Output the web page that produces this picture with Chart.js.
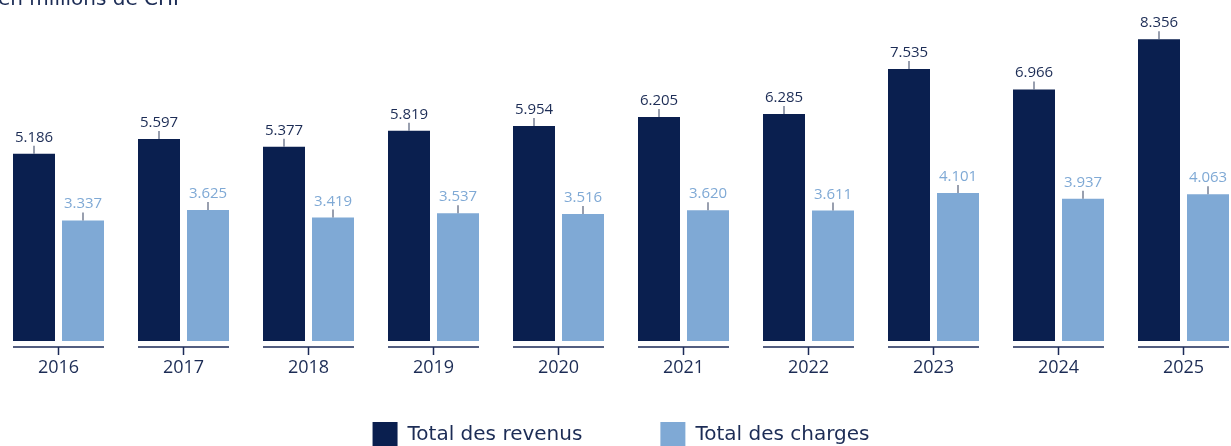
<!DOCTYPE html>
<html>
<head>
<meta charset="utf-8">
<script src="https://cdn.jsdelivr.net/npm/chart.js@4.4.1/dist/chart.umd.min.js"></script>
<style>
  html, body { margin: 0; padding: 0; background: #ffffff; overflow: hidden; width: 1231px; height: 446px; }
  #wrap { position: absolute; left: -4px; top: 0; width: 1250px; height: 457px; }
</style>
</head>
<body>
<div id="wrap"><canvas id="c"></canvas></div>
<script>
const years = ['2016','2017','2018','2019','2020','2021','2022','2023','2024','2025'];
const revenus = [5186, 5597, 5377, 5819, 5954, 6205, 6285, 7535, 6966, 8356];
const charges = [3337, 3625, 3419, 3537, 3516, 3620, 3611, 4101, 3937, 4063];
const seriesNames = ['Total des revenus', 'Total des charges'];
const unitTitle = 'en millions de CHF';

const NAVY = '#0a1f4f';
const LIGHT = '#7fa9d5';
const TEXT_NAVY = '#1c2c55';

function fmt(v) {
  const s = String(Math.round(v));
  return s.replace(/\B(?=(\d{3})+(?!\d))/g, '.');
}

Chart.defaults.font.family = "'Open Sans', sans-serif";
Chart.defaults.color = TEXT_NAVY;

const LEGEND_PAD = 78;

const decor = {
  id: 'decor',
  afterDatasetsDraw(chart) {
    const ctx = chart.ctx;
    const area = chart.chartArea;
    const m0 = chart.getDatasetMeta(0);
    const m1 = chart.getDatasetMeta(1);
    ctx.save();
    // axis segments under each group + year labels
    ctx.strokeStyle = '#1b2a57';
    ctx.lineWidth = 1.5;
    ctx.fillStyle = TEXT_NAVY;
    ctx.font = "18px 'Open Sans', sans-serif";
    ctx.textAlign = 'center';
    ctx.textBaseline = 'middle';
    for (let i = 0; i < years.length; i++) {
      const b0 = m0.data[i], b1 = m1.data[i];
      const left = b0.x - b0.width / 2;
      const right = b1.x + b1.width / 2;
      const cx = (left + right) / 2;
      const y = area.bottom + 6;
      ctx.beginPath();
      ctx.moveTo(left, y);
      ctx.lineTo(right, y);
      ctx.moveTo(cx, y);
      ctx.lineTo(cx, y + 8);
      ctx.stroke();
      ctx.fillText(years[i], cx, area.bottom + 27);
    }
    // value labels with small ticks
    ctx.font = "15px 'Open Sans', sans-serif";
    ctx.textAlign = 'center';
    ctx.textBaseline = 'alphabetic';
    [m0, m1].forEach((meta, di) => {
      const data = chart.data.datasets[di].data;
      meta.data.forEach((bar, i) => {
        ctx.strokeStyle = '#55607a';
        ctx.lineWidth = 1.2;
        ctx.beginPath();
        ctx.moveTo(bar.x, bar.y);
        ctx.lineTo(bar.x, bar.y - 8);
        ctx.stroke();
        ctx.fillStyle = di === 0 ? TEXT_NAVY : LIGHT;
        ctx.fillText(fmt(data[i]), bar.x, bar.y - 12);
      });
    });
    // unit title (cut off at top)
    ctx.font = "20px 'DejaVu Sans', sans-serif";
    ctx.textAlign = 'left';
    ctx.fillStyle = TEXT_NAVY;
    ctx.fillText(unitTitle, 2, 5);
    ctx.restore();
  }
};

new Chart(document.getElementById('c'), {
  type: 'bar',
  data: {
    labels: years,
    datasets: [
      { label: seriesNames[0], data: revenus, backgroundColor: NAVY, borderWidth: 0 },
      { label: seriesNames[1], data: charges, backgroundColor: LIGHT, borderWidth: 0 }
    ]
  },
  options: {
    responsive: true,
    maintainAspectRatio: false,
    animation: false,
    events: [],
    layout: { padding: { top: 16, left: 0, right: 0, bottom: 0 } },
    datasets: { bar: { categoryPercentage: 0.784, barPercentage: 0.857 } },
    scales: {
      x: {
        grid: { display: false, drawTicks: false },
        border: { display: false },
        ticks: { display: false },
        afterFit(scale) { scale.height = 81 - LEGEND_PAD; }
      },
      y: { display: false, min: 0, max: 9000 }
    },
    plugins: {
      legend: {
        position: 'bottom',
        labels: {
          boxWidth: 25,
          boxHeight: 25,
          padding: LEGEND_PAD,
          color: TEXT_NAVY,
          font: { size: 20, family: "'DejaVu Sans', sans-serif" }
        }
      },
      tooltip: { enabled: false }
    }
  },
  plugins: [decor]
});
</script>
</body>
</html>
